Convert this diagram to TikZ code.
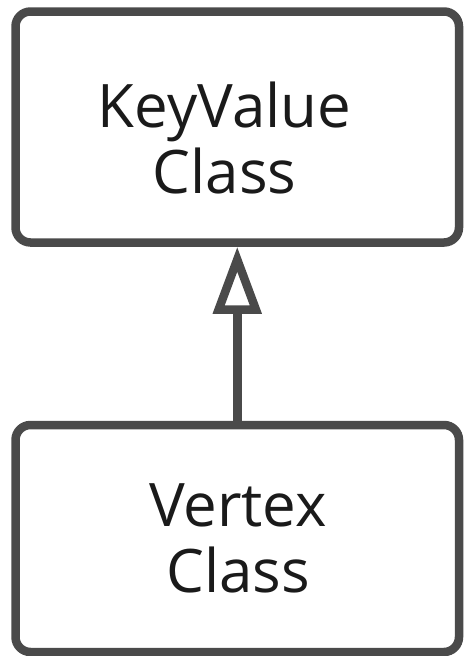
\documentclass[tikz,border=0pt]{standalone}
\usepackage{fontspec}
\setmainfont{Open Sans}
\usetikzlibrary{arrows.meta}
\definecolor{edge}{HTML}{4A4A4A}
\definecolor{ink}{HTML}{1A1A1A}
\begin{document}
\begin{tikzpicture}[x=1pt,y=-1pt,
  classbox/.style={draw=edge, line width=8.5pt, rounded corners=15pt,
    minimum width=443.5pt, inner sep=0pt, fill=white},
  classtext/.style={text=ink, inner sep=0pt, align=center,
    font=\fontsize{60pt}{66pt}\selectfont},
  inherits/.style={draw=edge, line width=8.5pt,
    -{Triangle[open, length=67pt, width=47pt, line width=8.5pt]}}]
  \useasboundingbox (0,0) rectangle (464,656);
  % parent and child class boxes
  \node[classbox, minimum height=231pt] (kv) at (237.25,127) {};
  \node[classbox, minimum height=227pt] (vtx) at (237.25,538.5) {};
  % class names
  \node[classtext] (kvtext) at (224.5,137.5) {KeyValue\\Class};
  \node[classtext] (vtxtext) at (238,538.6) {Vertex\\Class};
  % generalisation arrow
  \draw[inherits] (vtx.north) -- (kv.south);
\end{tikzpicture}
\end{document}
